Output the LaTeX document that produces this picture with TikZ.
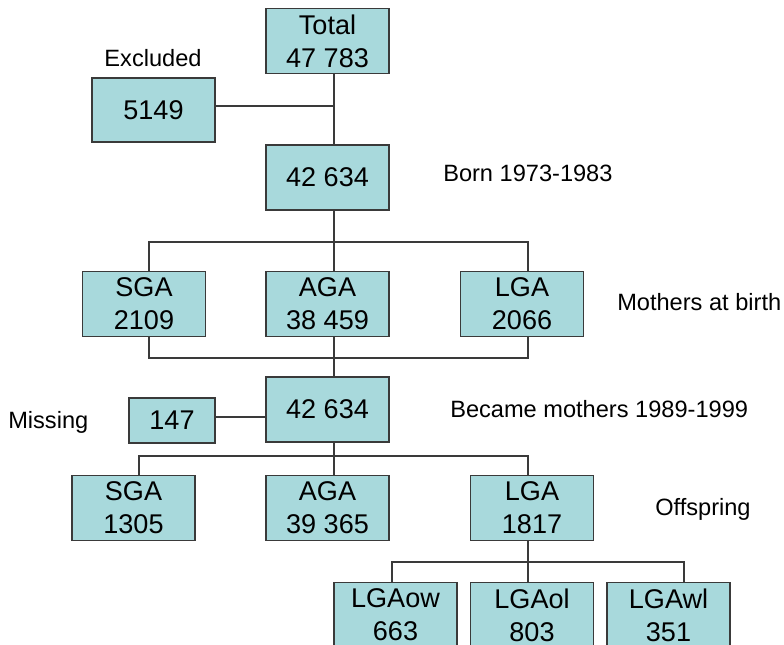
\documentclass[tikz,border=0pt]{standalone}
\usepackage{fontspec}
\setmainfont{Liberation Sans}
\definecolor{boxfill}{HTML}{A8D9DC}
\definecolor{edge}{HTML}{3A3A3A}
\begin{document}
\begin{tikzpicture}[x=0.75pt,y=-0.75pt,
  box/.style={draw=edge,line width=1.1pt,fill=boxfill,inner sep=0pt,
    minimum width=92pt,minimum height=49pt,align=center,
    font=\fontsize{20.3}{24.8}\selectfont},
  lbl/.style={inner sep=0pt,anchor=base west,font=\fontsize{17.7}{21}\selectfont},
  conn/.style={draw=edge,line width=1.1pt}]
\useasboundingbox (0,0) rectangle (784,645);
\clip (0,0) rectangle (784,645);
% boxes
\node[box] (total) at (327.5,41) {Total\\47 783};
\node[box,minimum height=48pt] (excl) at (153.5,110) {5149};
\node[box] (born) at (327.5,177.5) {42 634};
\node[box] (sga1) at (144,304) {SGA\\2109};
\node[box] (aga1) at (327.5,304) {AGA\\38 459};
\node[box] (lga1) at (522,304) {LGA\\2066};
\node[box] (mom) at (327.5,409.5) {42 634};
\node[box,minimum width=64.5pt,minimum height=33.75pt] (miss) at (172,420.5) {147};
\node[box] (sga2) at (133.5,508) {SGA\\1305};
\node[box] (aga2) at (327.5,508) {AGA\\39 365};
\node[box] (lga2) at (532,508) {LGA\\1817};
\node[box] (lgaow) at (395.5,615) {LGAow\\663};
\node[box] (lgaol) at (532,615) {LGAol\\803};
\node[box] (lgawl) at (668.5,615) {LGAwl\\351};
% labels
\node[lbl,anchor=base] (lexcl) at (153,67) {Excluded};
\node[lbl] (lborn) at (443,182) {Born 1973-1983};
\node[lbl] (lmoth) at (617,310) {Mothers at birth};
\node[lbl] (lmiss) at (8,428) {Missing};
\node[lbl] (lbec) at (450,417) {Became mothers 1989-1999};
\node[lbl] (loff) at (655,515) {Offspring};
% junction coordinates
\coordinate (j0) at (334,106);
\coordinate (m1) at (334,242);
\coordinate (l1) at (149,242);
\coordinate (r1) at (528,242);
\coordinate (m2) at (334,358);
\coordinate (l2) at (149,358);
\coordinate (r2) at (528,358);
\coordinate (jm) at (240,417);
\coordinate (m3) at (334,456);
\coordinate (l3) at (139,456);
\coordinate (r3) at (528,456);
\coordinate (m4) at (528,562);
\coordinate (l4) at (392,562);
\coordinate (r4) at (684,562);
% connectors
\draw[conn] (total.south -| j0) -- (born.north -| j0);
\draw[conn] (excl.east |- j0) -- (j0);
\draw[conn] (born.south -| m1) -- (aga1.north -| m1);
\draw[conn] (sga1.north -| l1) -- (l1) -- (r1) -- (lga1.north -| r1);
\draw[conn] (aga1.south -| m2) -- (mom.north -| m2);
\draw[conn] (sga1.south -| l2) -- (l2) -- (r2) -- (lga1.south -| r2);
\draw[conn] (miss.east |- jm) -- (mom.west |- jm);
\draw[conn] (mom.south -| m3) -- (aga2.north -| m3);
\draw[conn] (sga2.north -| l3) -- (l3) -- (r3) -- (lga2.north -| r3);
\draw[conn] (lga2.south -| m4) -- (lgaol.north -| m4);
\draw[conn] (lgaow.north -| l4) -- (l4) -- (r4) -- (lgawl.north -| r4);
\end{tikzpicture}
\end{document}
